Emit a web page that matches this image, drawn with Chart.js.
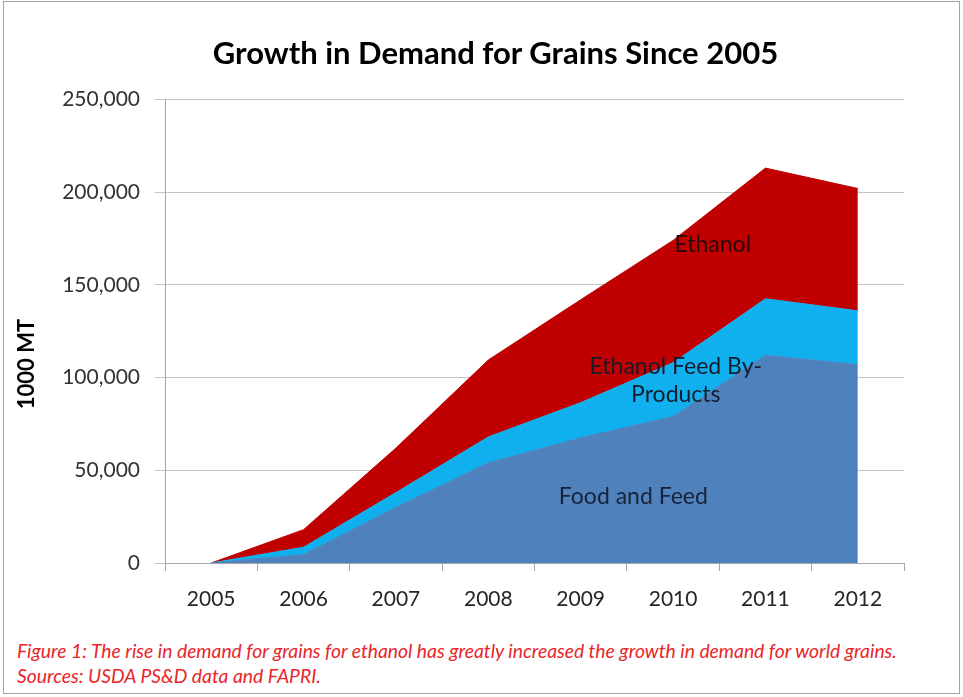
<!DOCTYPE html>
<html>
<head>
<meta charset="utf-8">
<title>Growth in Demand for Grains Since 2005</title>
<script src="https://cdn.jsdelivr.net/npm/chart.js@4.4.0/dist/chart.umd.min.js"></script>
<style>
  html, body { margin: 0; padding: 0; background: #fff; }
  #page { position: relative; width: 963px; height: 697px; overflow: hidden; font-family: Lato, 'Noto Sans', sans-serif; }
  #frame { position: absolute; left: 3px; top: 1px; width: 957px; height: 693px; border: 1px solid #a3a3a3; box-sizing: border-box; }
  #title { position: absolute; left: 0; top: 34px; width: 991px; text-align: center; font-weight: bold; font-size: 31px; line-height: 36px; color: #000; }
  #wrap { position: absolute; left: 0; top: 0; width: 963px; height: 625px; }
  #caption { position: absolute; left: 17px; top: 638px; color: #e8262a; font-style: italic; font-size: 19.3px; line-height: 25px; white-space: nowrap; }
</style>
</head>
<body>
<div id="page">
  <div id="frame"></div>
  <div id="wrap"><canvas id="grainChart" width="963" height="625"></canvas></div>
  <div id="title">Growth in Demand for Grains Since 2005</div>
  <div id="caption">Figure 1: The rise in demand for grains for ethanol has greatly increased the growth in demand for world grains.<br>Sources: USDA PS&amp;D data and FAPRI.</div>
</div>
<script>
  // demanda (1000 MT), empilhada
  const years = ['2005', '2006', '2007', '2008', '2009', '2010', '2011', '2012'];
  const foodFeed = [0, 4500, 30000, 54000, 67500, 79000, 112000, 107000];
  const byProducts = [0, 4000, 8000, 14000, 19000, 29000, 30500, 29000];
  const ethanol = [0, 9500, 24000, 41500, 55500, 66000, 70500, 66000];
  const yMax = 250000;
  const yStep = 50000;

  const FONT = "Lato, 'Noto Sans', sans-serif";

  // rótulos das áreas, posicionados em coordenadas (índice da categoria, valor)
  const areaLabels = {
    id: 'areaLabels',
    afterDatasetsDraw(chart) {
      const { ctx, scales: { x, y } } = chart;
      const items = [
        { lines: ['Ethanol'], at: [5.43, 171500], color: '#2a0608' },
        { lines: ['Ethanol Feed By-', 'Products'], at: [5.03, 105700], color: '#141c2c' },
        { lines: ['Food and Feed'], at: [4.57, 35600], color: '#17233a' }
      ];
      ctx.save();
      ctx.font = '23px ' + FONT;
      ctx.textAlign = 'center';
      ctx.textBaseline = 'middle';
      items.forEach(it => {
        const px = x.getPixelForValue(it.at[0]);
        const py = y.getPixelForValue(it.at[1]);
        ctx.fillStyle = it.color;
        it.lines.forEach((l, i) => ctx.fillText(l, px, py + i * 28));
      });

      // título do eixo y
      ctx.translate(27, 364);
      ctx.rotate(-Math.PI / 2);
      ctx.font = 'bold 22px ' + FONT;
      ctx.fillStyle = '#000';
      ctx.fillText('1000 MT', 0, 0);
      ctx.restore();
    }
  };

  const ctx = document.getElementById('grainChart').getContext('2d');
  new Chart(ctx, {
    type: 'line',
    data: {
      labels: years,
      datasets: [
        { label: 'Food and Feed', data: foodFeed, backgroundColor: '#4f81bd', borderColor: '#4f81bd', fill: 'origin' },
        { label: 'Ethanol Feed By-Products', data: byProducts, backgroundColor: '#10b0ee', borderColor: '#10b0ee', fill: '-1' },
        { label: 'Ethanol', data: ethanol, backgroundColor: '#c00000', borderColor: '#c00000', fill: '-1' }
      ]
    },
    options: {
      responsive: false,
      animation: false,
      events: [],
      layout: { padding: { top: 99.5, right: 59, bottom: 12, left: 0 } },
      elements: { point: { radius: 0 }, line: { borderWidth: 1, tension: 0 } },
      plugins: { legend: { display: false }, title: { display: false }, tooltip: { enabled: false } },
      scales: {
        x: {
          offset: true,
          grid: { offset: true, drawOnChartArea: false, drawTicks: true, tickLength: 8, color: '#a6a6a6' },
          border: { display: true, color: '#a6a6a6' },
          ticks: { color: '#262626', font: { family: FONT, size: 21 }, padding: 16, maxRotation: 0 },
          afterFit(scale) { scale.height = 50; }
        },
        y: {
          stacked: true,
          min: 0,
          max: yMax,
          grid: { color: '#c4c4c4', tickLength: 10 },
          border: { display: true, color: '#a6a6a6' },
          ticks: {
            stepSize: yStep,
            padding: 15,
            color: '#333',
            font: { family: FONT, size: 21 },
            callback: v => v.toLocaleString('en-US')
          },
          afterFit(scale) { scale.width = 165; }
        }
      }
    },
    plugins: [areaLabels]
  });
</script>
</body>
</html>
